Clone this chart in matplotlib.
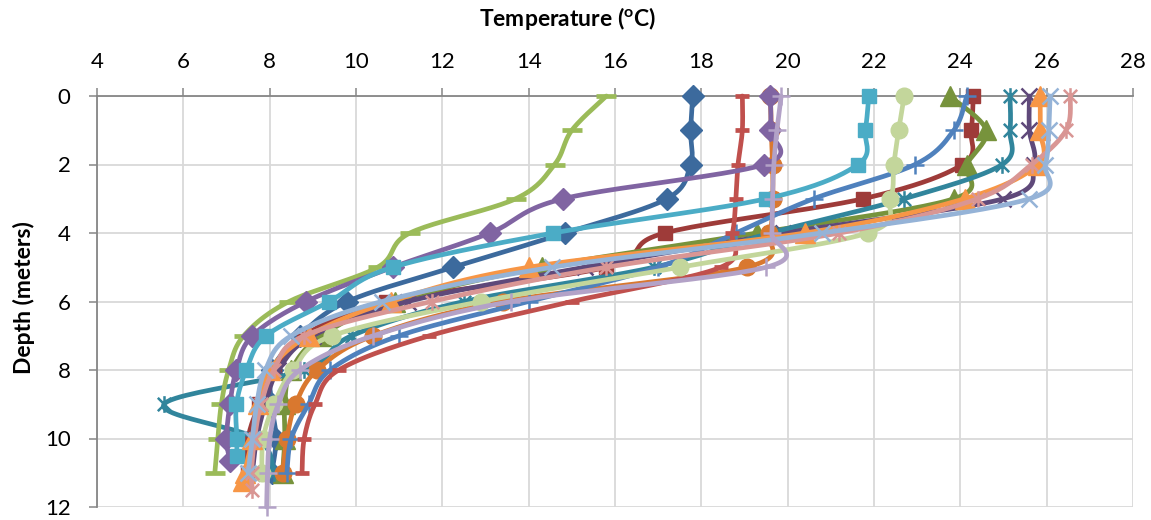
import numpy as np
import matplotlib
matplotlib.use("Agg")
import matplotlib.pyplot as plt
from matplotlib.path import Path

# ---------------- data ----------------
depth_11 = [0, 1, 2, 3, 4, 5, 6, 7, 8, 9, 10, 11]

t_darkblue_diamond = [17.8, 17.75, 17.75, 17.2, 14.85, 12.25, 9.8, 8.7, 8.05, 8.05, 8.15, 8.05]
t_darkred_square = [24.3, 24.25, 24.05, 21.75, 17.15, 15.8, 10.7, 8.8, 8.1, 7.75, 7.5, 7.5]
t_olive_triangle = [23.75, 24.6, 24.15, 23.85, 19.3, 14.3, 10.9, 9.2, 8.5, 8.35, 8.35, 8.3]
t_darkpurple_x = [25.6, 25.6, 25.7, 25.0, 19.9, 15.3, 11.2, 9.0, 8.2, 7.9, 7.7, 7.6]
t_teal_star = [25.15, 25.15, 24.97, 22.7, 19.6, 16.9, 12.5, 9.9, 8.8, 5.55, 7.7, 8.1]
t_darkorange_circle = [19.6, 19.62, 19.65, 19.65, 19.57, 19.05, 13.4, 10.4, 9.1, 8.6, 8.4, 8.3]
t_blue_plus = [24.15, 23.85, 22.95, 20.6, 18.8, 17.0, 14.0, 11.0, 9.4, 8.9, 8.5, 8.4]
t_red_dash = [18.95, 18.95, 18.85, 18.8, 18.72, 18.45, 15.0, 11.7, 9.6, 9.05, 8.8, 8.75]
t_green_dash = [15.8, 15.0, 14.6, 13.7, 11.25, 10.5, 8.45, 7.4, 7.05, 6.88, 6.8, 6.73]

depth_purple = [0, 1, 2, 3, 4, 5, 6, 7, 8, 9, 10, 10.65]
t_purple_diamond = [19.6, 19.6, 19.45, 14.8, 13.1, 10.85, 8.85, 7.6, 7.23, 7.08, 7.0, 7.08]

depth_cyan = [0, 1, 2, 3, 4, 5, 6, 7, 8, 9, 10, 10.5]
t_cyan_square = [21.88, 21.8, 21.63, 19.5, 14.57, 10.85, 9.38, 7.92, 7.46, 7.23, 7.24, 7.24]

t_lightgreen_circle = [22.7, 22.57, 22.46, 22.38, 21.85, 17.5, 12.9, 9.45, 8.54, 8.1, 7.85, 7.82]

depth_orange = [0, 1, 2, 3, 4, 5, 6, 7, 8, 9, 10, 11, 11.25]
t_orange_triangle = [25.85, 25.85, 25.8, 24.1, 20.4, 14.0, 10.8, 8.9, 8.0, 7.73, 7.6, 7.42, 7.38]

depth_pink = [0, 1, 2, 3, 4, 5, 6, 7, 8, 9, 10, 11, 11.5]
t_pink_star = [26.55, 26.45, 25.65, 24.4, 21.2, 15.8, 11.75, 8.8, 8.1, 7.8, 7.65, 7.58, 7.6]

t_lightblue_x = [26.08, 26.05, 25.97, 25.6, 20.8, 14.55, 10.6, 8.5, 7.9, 7.7, 7.6, 7.5]

depth_lavender = [0, 1, 2, 3, 4, 5, 6, 7, 8, 9, 10, 11, 12]
t_lavender_plus = [19.85, 19.75, 19.68, 19.65, 19.63, 19.5, 13.6, 10.4, 8.7, 8.2, 8.0, 7.95, 7.93]

x_ticks = [4, 6, 8, 10, 12, 14, 16, 18, 20, 22, 24, 26, 28]
y_ticks = [0, 2, 4, 6, 8, 10, 12]
x_title = r"Temperature ($\mathbf{^o}$C)"
y_title = "Depth (meters)"

# --------------- styles ----------------
STAR = Path([(-1, -1), (1, 1), (-1, 1), (1, -1), (0, -1.25), (0, 1.25)],
            [Path.MOVETO, Path.LINETO, Path.MOVETO, Path.LINETO, Path.MOVETO, Path.LINETO])

series = [
    (depth_11, t_darkblue_diamond, "#3C6A9D", "D", 11, 1),
    (depth_11, t_darkred_square, "#9E3B39", "s", 10, 1),
    (depth_11, t_olive_triangle, "#77933C", "^", 14, 1),
    (depth_11, t_darkpurple_x, "#5F497A", "x", 12, 1.8),
    (depth_11, t_teal_star, "#31859C", STAR, 12, 1.8),
    (depth_11, t_darkorange_circle, "#D9782F", "o", 12, 1),
    (depth_11, t_blue_plus, "#4F81BD", "+", 13, 1.8),
    (depth_11, t_red_dash, "#C0504D", "_", 10, 3.4),
    (depth_11, t_green_dash, "#9BBB59", "_", 15, 3.4),
    (depth_purple, t_purple_diamond, "#8064A2", "D", 11, 1),
    (depth_cyan, t_cyan_square, "#4BACC6", "s", 10, 1),
    (depth_11, t_lightgreen_circle, "#C3D69B", "o", 12, 1),
    (depth_orange, t_orange_triangle, "#F79646", "^", 14, 1),
    (depth_pink, t_pink_star, "#D99694", STAR, 12, 1.8),
    (depth_11, t_lightblue_x, "#95B3D7", "x", 12, 1.8),
    (depth_lavender, t_lavender_plus, "#B3A2C7", "+", 13, 1.8),
]


def smooth(xs, ys, n=24):
    P = np.column_stack([xs, ys]).astype(float)
    out = []
    for i in range(len(P) - 1):
        p0 = P[i - 1] if i > 0 else P[i]
        p1, p2 = P[i], P[i + 1]
        p3 = P[i + 2] if i + 2 < len(P) else P[i + 1]
        c1 = p1 + (p2 - p0) / 6.0
        c2 = p2 - (p3 - p1) / 6.0
        t = np.linspace(0, 1, n)[:, None]
        seg = (1 - t) ** 3 * p1 + 3 * (1 - t) ** 2 * t * c1 + 3 * (1 - t) * t ** 2 * c2 + t ** 3 * p2
        out.append(seg if i == 0 else seg[1:])
    return np.vstack(out)


plt.rcParams["font.family"] = ["Lato", "DejaVu Sans"]
plt.rcParams["mathtext.fontset"] = "custom"
plt.rcParams["mathtext.bf"] = "Lato:bold"
plt.rcParams["mathtext.rm"] = "Lato"

fig = plt.figure(figsize=(11.51, 5.20), dpi=100)
ax = fig.add_axes([97 / 1151, 1 - 507 / 520, (1133 - 97) / 1151, (507 - 96) / 520])

for i, (d, t, col, mk, ms, mew) in enumerate(series):
    curve = smooth(t, d)
    z = 3 + i * 0.05
    ax.plot(curve[:, 0], curve[:, 1], color=col, lw=3.4, solid_capstyle="round",
            solid_joinstyle="round", zorder=z, clip_on=False)
    ax.plot(t, d, linestyle="none", marker=mk, markersize=ms, color=col,
            markerfacecolor=col, markeredgecolor=col, markeredgewidth=mew,
            zorder=z + 0.01, clip_on=False)

ax.set_xlim(4, 28)
ax.set_ylim(12, 0)
ax.set_xticks(x_ticks)
ax.set_yticks(y_ticks)
ax.xaxis.tick_top()
ax.xaxis.set_label_position("top")
ax.grid(True, color="#D9D9D9", lw=1.3, zorder=0)
ax.set_axisbelow(True)
for s in ["right", "bottom"]:
    ax.spines[s].set_visible(False)
for s in ["top", "left"]:
    ax.spines[s].set_color("#868686")
    ax.spines[s].set_linewidth(1.3)
ax.tick_params(axis="x", which="major", direction="out", length=6, width=1.1,
               color="#868686", pad=11, labelsize=16, labelcolor="#000000")
ax.tick_params(axis="y", which="major", direction="out", length=6, width=1.1,
               color="#868686", pad=13, labelsize=16, labelcolor="#000000")

fig.text(568 / 1151, 1 - 19 / 520, x_title, ha="center", va="center",
         fontsize=16.5, fontweight="bold")
fig.text(24 / 1151, 1 - 298 / 520, y_title, ha="center", va="center",
         rotation=90, fontsize=16.5, fontweight="bold")

fig.savefig("out.png", dpi=100)
